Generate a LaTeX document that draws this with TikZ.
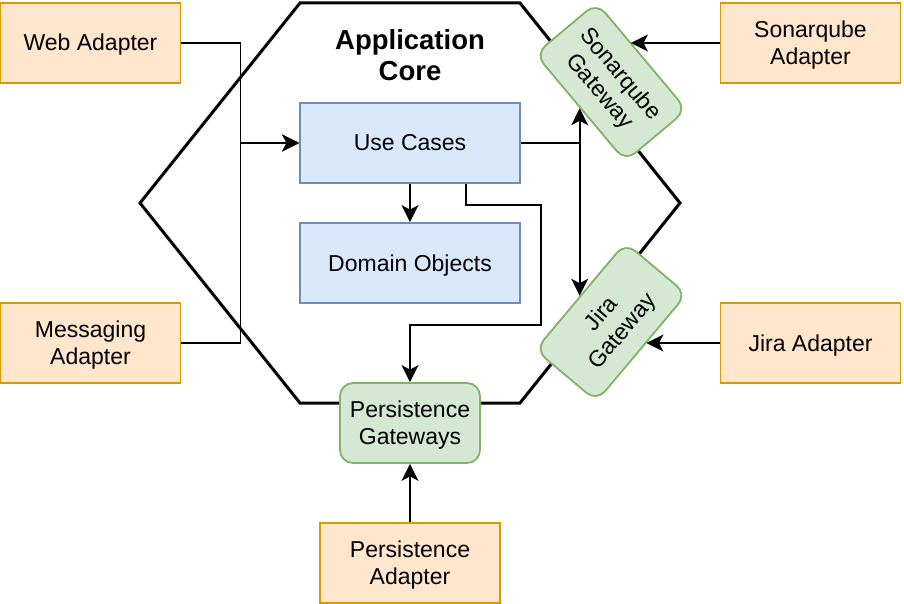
\documentclass[tikz,border=0pt]{standalone}
\usepackage{fontspec}
\setmainfont{Liberation Sans}
\usetikzlibrary{arrows.meta}
\definecolor{adfill}{HTML}{FFE6CC}
\definecolor{adline}{HTML}{D79B00}
\definecolor{corefill}{HTML}{DAE8FC}
\definecolor{coreline}{HTML}{6C8EBF}
\definecolor{gwfill}{HTML}{D5E8D4}
\definecolor{gwline}{HTML}{82B366}
\newcommand\topstrut{\rule{0pt}{21.8pt}}
\begin{document}
\begin{tikzpicture}[x=1pt,y=-1pt,
  every node/.style={font=\fontsize{23}{27}\selectfont,align=center,inner sep=2pt},
  boxtext/.style={execute at begin node={\topstrut},execute at end node={\rule[-5.8pt]{0pt}{5.8pt}}},
  adapter/.style={boxtext,draw=adline,fill=adfill,line width=1.8pt,minimum width=180pt,minimum height=80pt},
  corebox/.style={boxtext,draw=coreline,fill=corefill,line width=1.8pt,minimum width=220pt,minimum height=80pt},
  gateway/.style={boxtext,draw=gwline,fill=gwfill,line width=1.8pt,rounded corners=13pt,minimum width=140pt,minimum height=80pt},
  arr/.style={-{Stealth[length=17pt,width=17pt,inset=4.5pt]},line width=1.8pt}]
\useasboundingbox (0,0) rectangle (904,604);
% hexagon
\draw[line width=3pt] (300,3) -- (520,3) -- (680,203) -- (520,403) -- (300,403) -- (140,203) -- cycle;
\node[font=\bfseries\fontsize{27.5}{31}\selectfont] (title) at (410,55) {Application\\Core};
% inside
\node[corebox] (ucases) at (410,143) {Use Cases};
\node[corebox] (domain) at (410,263) {Domain Objects};
% gateways
\node[gateway] (persgw) at (410,423) {\topstrut Persistence\\Gateways};
\node[gateway,rotate=-50] (sonargw) at (611,82) {\topstrut Sonarqube\\Gateway};
\node[gateway,rotate=50] (jiragw) at (611,322) {\topstrut Jira\\Gateway};
% adapters
\node[adapter] (webad) at (90.5,43) {Web Adapter};
\node[adapter] (msgad) at (90.5,343) {\topstrut Messaging\\Adapter};
\node[adapter] (sonarad) at (810.5,43) {\topstrut Sonarqube\\Adapter};
\node[adapter] (jiraad) at (810.5,343) {Jira Adapter};
\node[adapter] (persad) at (410,563) {\topstrut Persistence\\Adapter};
% ports on the tilted gateways
\path (sonargw.north) -- (sonargw.north west) coordinate[pos=0.25] (sonarport);
\path (jiragw.south) -- (jiragw.south east) coordinate[pos=0.09] (jiraport);
% connectors
\draw[arr] (webad.east) -- ++(59,0) |- (ucases.west);
\draw[arr] (msgad.east) -- ++(59,0) |- (ucases.west);
\draw[arr] (ucases) -- (domain);
\draw[arr] (ucases.east) -| (sonargw.south);
\draw[arr] (ucases.east) -| (jiragw.north);
\draw[arr] ([xshift=56pt]ucases.south) -- ++(0,21) -- ++(75,0) -- ++(0,120) -| (persgw.north);
\draw[arr] (sonarad.west) -- (sonarad.west -| sonarport);
\draw[arr] (jiraad.west) -- (jiraad.west -| jiraport);
\draw[arr] (persad) -- (persgw);
\end{tikzpicture}
\end{document}
